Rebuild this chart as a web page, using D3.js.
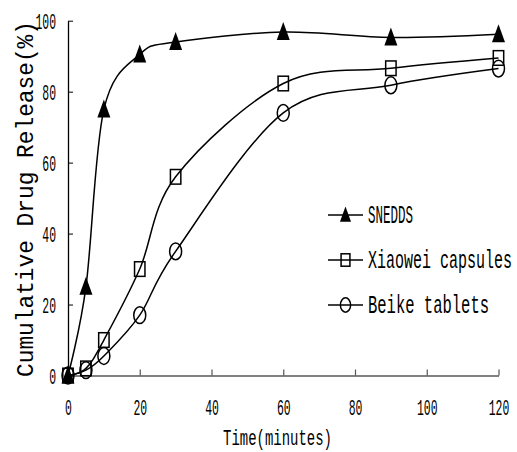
<!DOCTYPE html>
<html><head><meta charset="utf-8">
<script src="https://cdn.jsdelivr.net/npm/d3@7"></script>
<style>
html,body{margin:0;padding:0;background:#fff;}
svg{display:block;}
text{font-family:"Liberation Mono","DejaVu Sans Mono",monospace;fill:#000;}
</style></head>
<body>
<svg id="c" width="517" height="452"></svg>
<script>
// ---- data ----
const times = [0, 5, 10, 20, 30, 60, 90, 120];
const snedds = [0, 25, 75, 90.5, 94, 96.8, 95.3, 96.2];
const xiaowei = [0, 2, 10, 30, 56, 82.3, 86.6, 89.5];
const beike = [0, 1.5, 5.5, 17, 35, 74, 81.8, 86.5];
const seriesNames = ["SNEDDS", "Xiaowei capsules", "Beike tablets"];
const xTicks = [0, 20, 40, 60, 80, 100, 120];
const yTicks = [0, 20, 40, 60, 80, 100];
const xTitle = "Time(minutes)";
const yTitle = "Cumulative Drug Release(%)";

const svg = d3.select("#c");
const x = d3.scaleLinear().domain([0, 120]).range([68, 498.5]);
const y = d3.scaleLinear().domain([0, 100]).range([375.5, 20.7]);
const TSX = 0.88, TSY = 1.75;

// x axis
const gx = svg.append("g").attr("transform", `translate(0,${y(0)})`)
  .call(d3.axisBottom(x).tickValues(xTicks).tickSize(-6).tickSizeOuter(0).tickFormat(d3.format("d")));
gx.select(".domain").attr("stroke", "#808080").attr("stroke-width", 2.2);
gx.selectAll(".tick line").attr("stroke", "#555").attr("stroke-width", 1.2);
gx.selectAll(".tick text").attr("y", 40 / TSY).attr("dy", 0)
  .attr("transform", `scale(${TSX},${TSY})`).style("font-size", "13px").attr("fill", "#444");

// y axis
const gy = svg.append("g").attr("transform", `translate(${x(0)},0)`)
  .call(d3.axisLeft(y).tickValues(yTicks).tickSize(-5).tickSizeOuter(0).tickFormat(d3.format("d")));
gy.select(".domain").attr("stroke", "#000").attr("stroke-width", 1.3);
gy.selectAll(".tick line").attr("stroke", "#000").attr("stroke-width", 1);
gy.selectAll(".tick text").attr("x", -12 / TSX).attr("dy", "0.33em")
  .attr("transform", `scale(${TSX},${TSY})`).style("font-size", "13px").attr("fill", "#444");

// titles
function addText(str, tx, ty, opts) {
  const g = svg.append("g").attr("transform",
    `translate(${tx},${ty}) rotate(${opts.rot || 0}) scale(${opts.sx || 1},${opts.sy || 1})`);
  const t = g.append("text").text(str)
    .attr("text-anchor", opts.anchor || "start")
    .attr("dy", opts.dy || 0)
    .style("font-size", opts.size + "px");
  if (opts.len) t.attr("textLength", opts.len).attr("lengthAdjust", opts.adj || "spacingAndGlyphs");
  if (opts.fill) t.attr("fill", opts.fill);
  return t;
}
addText(xTitle, 223, 445, {size: 15, sy: 1.45, len: 109, fill: "#333"});
addText(yTitle, 33, 377, {size: 23, rot: -90, len: 356, fill: "#444"});

// lines
const line = d3.line().x(d => x(d[0])).y(d => y(d[1])).curve(d3.curveCardinal.tension(0));
const allSeries = [snedds, xiaowei, beike];
allSeries.forEach(vals => {
  svg.append("path").datum(times.map((t, i) => [t, vals[i]]))
    .attr("d", line).attr("fill", "none").attr("stroke", "#000").attr("stroke-width", 1.5);
});

// markers
function marker(g, type, cx, cy, s) {
  if (type === 0) {
    g.append("path").attr("d", `M${cx},${cy - 10 * s}L${cx + 6.5 * s},${cy + 8 * s}L${cx - 6.5 * s},${cy + 8 * s}Z`)
      .attr("fill", "#000");
  } else if (type === 1) {
    g.append("rect").attr("x", cx - 5.2 * s).attr("y", cy - 7.3 * s).attr("width", 10.4 * s).attr("height", 14.6 * s)
      .attr("fill", "none").attr("stroke", "#000").attr("stroke-width", 1.5);
  } else {
    g.append("ellipse").attr("cx", cx).attr("cy", cy).attr("rx", 6 * s).attr("ry", 8.4 * s)
      .attr("fill", "none").attr("stroke", "#000").attr("stroke-width", 1.5);
  }
}
const gm = svg.append("g");
allSeries.forEach((vals, k) => {
  times.forEach((t, i) => marker(gm, k, x(t), y(vals[i]), 1));
});

// legend
const legY = [215, 260, 305];
const legLen = [45, 144, 121];
seriesNames.forEach((n, k) => {
  const ly = legY[k];
  svg.append("line").attr("x1", 328).attr("x2", 363).attr("y1", ly).attr("y2", ly)
    .attr("stroke", "#000").attr("stroke-width", 1.5);
  marker(svg, k, 345.5, ly, 0.85);
  addText(n, 368, ly, {size: 15, sy: 1.7, dy: "0.33em", len: legLen[k], fill: "#222"});
});
</script>
</body></html>
